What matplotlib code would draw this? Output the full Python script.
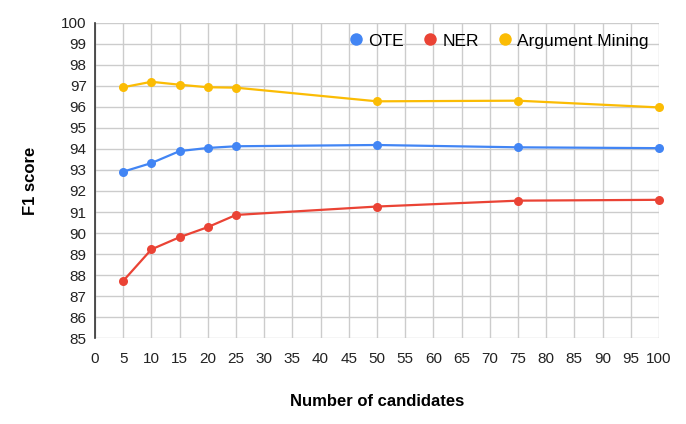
import matplotlib
matplotlib.use("Agg")
import matplotlib.pyplot as plt
from matplotlib.lines import Line2D

plt.rcParams['font.family'] = ['Liberation Sans', 'DejaVu Sans']

# data
candidates = [5, 10, 15, 20, 25, 50, 75, 100]
ote = [92.92, 93.33, 93.90, 94.05, 94.13, 94.19, 94.08, 94.04]
ner = [87.72, 89.22, 89.80, 90.28, 90.86, 91.26, 91.54, 91.58]
arg_mining = [96.94, 97.20, 97.06, 96.94, 96.92, 96.27, 96.30, 95.98]

series_names = ['OTE', 'NER', 'Argument Mining']
colors = ['#4285F4', '#EA4335', '#FBBC04']

fig = plt.figure(figsize=(6.86, 4.24), dpi=100)
ax = fig.add_axes([0.1385, 0.2028, 0.822, 0.7430])

for vals, name, c in zip([ote, ner, arg_mining], series_names, colors):
    ax.plot(candidates, vals, color=c, lw=1.6, marker='o', ms=6.5,
            markeredgewidth=0, label=name, zorder=3, clip_on=False)

ax.set_xlim(0, 100)
ax.set_ylim(85, 100)
ax.set_xticks(range(0, 101, 5))
ax.set_yticks(range(85, 101, 1))
ax.grid(True, color='#cccccc', lw=1)
ax.set_axisbelow(True)
for s in ['top', 'right', 'bottom']:
    ax.spines[s].set_visible(False)
ax.spines['left'].set_color('#333333')
ax.spines['left'].set_linewidth(1.2)
ax.tick_params(length=0, labelsize=11, colors='#222222')
ax.tick_params(axis='x', pad=10)
ax.tick_params(axis='y', pad=6)

ax.set_xlabel('Number of candidates', fontsize=12, fontweight='bold', labelpad=20)
ax.set_ylabel('F1 score', fontsize=12, fontweight='bold', labelpad=17)

handles = [Line2D([], [], ls='none', marker='o', ms=9, color=c, markeredgewidth=0)
           for c in colors]
ax.legend(handles, series_names, loc='upper right', bbox_to_anchor=(1.0, 1.0),
          ncol=3, frameon=False, fontsize=12.5, handletextpad=0.1,
          columnspacing=0.9, borderaxespad=0.2, handlelength=1.2)

fig.savefig('out.png', dpi=100)
